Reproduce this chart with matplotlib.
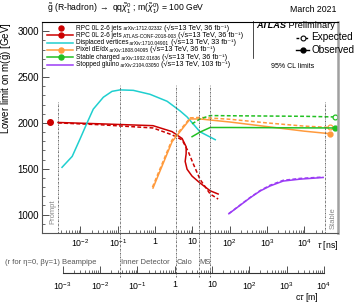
import matplotlib
matplotlib.use('Agg')
import matplotlib.pyplot as plt
from matplotlib.lines import Line2D

plt.rcParams['font.family'] = ['Liberation Sans', 'DejaVu Sans']
plt.rcParams['mathtext.fontset'] = 'custom'
plt.rcParams['mathtext.rm'] = 'Liberation Sans'
plt.rcParams['mathtext.it'] = 'Liberation Sans:italic'
plt.rcParams['mathtext.bf'] = 'Liberation Sans:bold'

# data (tau in ns, limit in GeV)
rpc_prompt_tau = [0.0015]
rpc_prompt_lim = [2010]

rpc_tau_obs = [0.0025, 0.034, 0.88, 2.85, 5.3, 6.8, 6.8, 6.4, 7.2, 9.8, 16, 30, 49]
rpc_obs = [2005, 1990, 1970, 1905, 1830, 1740, 1665, 1580, 1495, 1420, 1345, 1260, 1225]
rpc_tau_exp = [0.0025, 0.034, 0.88, 2.85, 5.3, 7.7, 10.4, 16, 30, 49]
rpc_exp = [2000, 1980, 1945, 1870, 1815, 1690, 1560, 1385, 1225, 1170]

dv_tau = [0.0032, 0.006, 0.0098, 0.015, 0.022, 0.041, 0.07, 0.115, 0.26, 0.73, 2.1, 4.7, 7.2, 16, 41]
dv_obs = [1516, 1635, 1828, 2000, 2150, 2280, 2344, 2360, 2355, 2312, 2236, 2130, 2065, 1903, 1817]

pix_tau_obs = [0.88, 2.86, 8.7, 16, 100, 1000, 10000, 50000]
pix_obs = [1290, 1796, 2043, 2043, 2010, 1960, 1910, 1882]
pix_tau_exp = [0.85, 2.8, 8.7, 16, 100, 1000, 10000, 50000]
pix_exp = [1300, 1810, 2055, 2060, 2040, 2000, 1965, 1950]

sc_tau = [9.8, 16, 30, 100, 1000, 10000, 65000]
sc_obs = [1850, 1900, 1950, 1950, 1948, 1946, 1945]
sc_exp = [1990, 2043, 2080, 2078, 2075, 2072, 2065]

sg_tau = [95, 350, 655, 1200, 2700, 7700, 32000]
sg_obs = [1010, 1183, 1258, 1312, 1366, 1387, 1405]
sg_exp = [1012, 1186, 1262, 1320, 1374, 1395, 1410]

prompt_tau = 0.0025
stable_tau = 36000
detector_tau = [0.115, 3.65, 15, 30]

c_red = '#cc0000'
c_cyan = '#1fcfcf'
c_orange = '#ff9a3c'
c_green = '#22c022'
c_purple = '#9b3cf5'

W, H = 357, 307
fig = plt.figure(figsize=(W / 100, H / 100), dpi=100)


def fx(x):
    return x / W


def fy(y):
    return 1 - y / H


ax = fig.add_axes([fx(42), fy(233), (338 - 42) / W, (233 - 22) / H])
ax.set_xscale('log')
ax.set_xlim(0.00093, 80000)
ax.set_ylim(800, 3100)

lw = 1.1
ax.plot(rpc_prompt_tau, rpc_prompt_lim, 'o', color=c_red, ms=4)
ax.plot(rpc_tau_obs, rpc_obs, '-', color=c_red, lw=lw)
ax.plot(rpc_tau_exp, rpc_exp, '--', color=c_red, lw=lw, dashes=(2.5, 1.5))
ax.plot(dv_tau, dv_obs, '-', color=c_cyan, lw=lw)
ax.plot(pix_tau_exp, pix_exp, '--', color=c_orange, lw=lw, dashes=(2.5, 1.5))
ax.plot(pix_tau_obs, pix_obs, '-', color=c_orange, lw=lw)
ax.plot(pix_tau_exp[-1:], pix_exp[-1:], 'o', color=c_orange, mfc='white', ms=3.5, mew=0.9)
ax.plot(pix_tau_obs[-1:], pix_obs[-1:], 'o', color=c_orange, ms=3.5)
ax.plot(sc_tau, sc_exp, '--', color=c_green, lw=lw, dashes=(2.5, 1.5))
ax.plot(sc_tau, sc_obs, '-', color=c_green, lw=lw)
ax.plot(sc_tau[-1:], sc_exp[-1:], 'o', color=c_green, mfc='white', ms=3.5, mew=0.9)
ax.plot(sc_tau[-1:], sc_obs[-1:], 'o', color=c_green, ms=3.5)
ax.plot(sg_tau, sg_exp, '--', color=c_purple, lw=lw, dashes=(2.5, 1.5))
ax.plot(sg_tau, sg_obs, '-', color=c_purple, lw=lw)

# region lines
vls = (0, (2, 1, 0.6, 1))
for t in [prompt_tau, stable_tau]:
    ax.axvline(t, ymin=0, ymax=(2226 - 800) / 2300, color='#555555', lw=0.6, ls=vls)
for t in detector_tau:
    ax.axvline(t, ymin=-0.2085, ymax=(2408 - 800) / 2300, color='#555555', lw=0.6,
               ls=vls, clip_on=False)

ax.text(0.0018, 1030, 'Prompt', rotation=90, fontsize=5.5, color='#888888',
        ha='center', va='center')
ax.text(60000, 960, 'Stable', rotation=90, fontsize=5.5, color='#888888',
        ha='center', va='center')

# axes styling
for s in ['left', 'bottom']:
    ax.spines[s].set_color('#555555')
    ax.spines[s].set_linewidth(0.8)
ax.spines['top'].set_linewidth(0.8)
ax.spines['right'].set_color('#a0a0a0')
ax.spines['right'].set_linewidth(1.8)

major = [1e-2, 1e-1, 1, 10, 1e2, 1e3, 1e4]
major_lab = [r'$10^{-2}$', r'$10^{-1}$', '1', '10', r'$10^{2}$', r'$10^{3}$', r'$10^{4}$']
ax.set_xticks(major, major_lab)
minor = [m * 10.0 ** e for e in range(-3, 5) for m in range(2, 10)
         if prompt_tau < m * 10.0 ** e < stable_tau]
ax.set_xticks(minor, minor=True)
ax.tick_params(axis='x', which='major', direction='in', length=5, width=0.6,
               labelsize=6.3, pad=3, color='#333333')
ax.tick_params(axis='x', which='minor', direction='in', length=2.5, width=0.5,
               color='#333333')
ax.set_yticks([1000, 1500, 2000, 2500, 3000])
ax.set_yticks(range(900, 3100, 100), minor=True)
ax.tick_params(axis='y', which='major', direction='in', length=5, width=0.6,
               labelsize=7, pad=2, color='#333333')
ax.tick_params(axis='y', which='minor', direction='in', length=2.5, width=0.5,
               color='#333333')
ax.set_ylabel(r'Lower limit on m($\tilde{\mathrm{g}}$) [GeV]', fontsize=7, loc='top',
              labelpad=3)

fig.text(fx(338), fy(245), r'$\tau$ [ns]', fontsize=6.3, ha='right', va='center')

# second axis in c*tau
ax2 = fig.add_axes([fx(42), fy(273), (338 - 42) / W, 0.0001])
ax2.set_xscale('log')
ax2.set_xlim(0.00093 * 0.29979, 80000 * 0.29979)
ax2.set_yticks([])
ax2.patch.set_visible(False)
for s in ['left', 'right', 'top']:
    ax2.spines[s].set_visible(False)
ax2.spines['bottom'].set_bounds(1e-3, 1e4)
ax2.spines['bottom'].set_linewidth(0.8)
ax2.spines['bottom'].set_color('#333333')
m_major = [1e-3, 1e-2, 1e-1, 1, 10, 1e2, 1e3, 1e4]
m_lab = [r'$10^{-3}$', r'$10^{-2}$', r'$10^{-1}$', '1', '10', r'$10^{2}$', r'$10^{3}$', r'$10^{4}$']
ax2.set_xticks(m_major, m_lab)
ax2.set_xticks([m * 10.0 ** e for e in range(-3, 4) for m in range(2, 10)], minor=True)
ax2.tick_params(axis='x', which='major', direction='in', length=5, width=0.6,
                labelsize=6.3, pad=5, color='#333333')
ax2.tick_params(axis='x', which='minor', direction='in', length=2.5, width=0.5,
                color='#333333')
fig.text(fx(319), fy(298), r'c$\tau$ [m]', fontsize=6.3, ha='right', va='center')

# detector labels
det_y = fy(262)
fig.text(fx(5), det_y, '(r for \u03b7=0, \u03b2\u03b3=1) Beampipe', fontsize=5.5,
         color='#555555', va='center')
fig.text(fx(121), det_y, 'Inner Detector', fontsize=5.5, color='#555555', va='center')
fig.text(fx(177), det_y, 'Calo', fontsize=5.5, color='#555555', va='center')
fig.text(fx(199.5), det_y, 'MS', fontsize=5.5, color='#555555', va='center')

# title
fig.text(fx(47), fy(9), r'$\tilde{\mathrm{g}}$ (R-hadron) $\rightarrow$ qq$\tilde{\chi}^0_1$ ; '
         r'm($\tilde{\chi}^0_1$) = 100 GeV', fontsize=6.2, va='center')
fig.text(fx(337), fy(9), 'March 2021', fontsize=6.3, ha='right', va='center')

# legend of analyses
rows = [
    ('RPC 0L 2-6 jets', 'arXiv:1712.02332', '(\u221as=13 TeV, 36 fb\u207b\u00b9)', c_red, False, True),
    ('RPC 0L 2-6 jets', 'ATLAS-CONF-2018-003', '(\u221as=13 TeV, 36 fb\u207b\u00b9)', c_red, True, True),
    ('Displaced vertices', 'arXiv:1710.04901', '(\u221as=13 TeV, 33 fb\u207b\u00b9)', c_cyan, True, False),
    ('Pixel dE/dx', 'arXiv:1808.04095', '(\u221as=13 TeV, 36 fb\u207b\u00b9)', c_orange, True, True),
    ('Stable charged', 'arXiv:1902.01636', '(\u221as=13 TeV, 36 fb\u207b\u00b9)', c_green, True, True),
    ('Stopped gluino', 'arXiv:2104.03050', '(\u221as=13 TeV, 103 fb\u207b\u00b9)', c_purple, True, False),
]
for i, (name, ref, lumi, col, has_line, has_mk) in enumerate(rows):
    y = 28 + i * 7.3
    if has_line:
        fig.add_artist(Line2D([fx(47), fx(73)], [fy(y), fy(y)], color=col, lw=1.1))
    if has_mk:
        fig.add_artist(Line2D([fx(61)], [fy(y)], marker='o', color=col, ms=3.6))
    t1 = fig.text(fx(76), fy(y), name, fontsize=4.7, va='center')
    an = plt.annotate(' ' + ref, xy=(1, 0), xycoords=t1, fontsize=3.5, va='bottom',
                      annotation_clip=False)
    plt.annotate(' ' + lumi, xy=(1, 0), xycoords=an, fontsize=5.2, va='bottom',
                 annotation_clip=False)

# ATLAS box
fig.add_artist(Line2D([fx(253), fx(253)], [fy(21), fy(58)], color='black', lw=0.5))
t_atlas = fig.text(fx(256), fy(26), 'ATLAS', fontsize=6.6, fontweight='bold',
                   style='italic', va='center')
plt.annotate(' Preliminary', xy=(1, 0.5), xycoords=t_atlas, fontsize=6.6, va='center',
             annotation_clip=False)
fig.add_artist(Line2D([fx(296), fx(309)], [fy(37.5), fy(37.5)], color='black', lw=1,
                      ls=(0, (2, 1.2))))
fig.add_artist(Line2D([fx(302.5)], [fy(37.5)], marker='o', color='black', mfc='white',
                      ms=3.5, mew=0.8))
fig.text(fx(311), fy(37.5), 'Expected', fontsize=7.2, va='center')
fig.add_artist(Line2D([fx(296), fx(309)], [fy(50), fy(50)], color='black', lw=1))
fig.add_artist(Line2D([fx(302.5)], [fy(50)], marker='o', color='black', ms=3.5))
fig.text(fx(311), fy(50), 'Observed', fontsize=7.2, va='center')
fig.text(fx(293), fy(67), '95% CL limits', fontsize=5, ha='center', va='center')

fig.savefig('out.png', dpi=100)
